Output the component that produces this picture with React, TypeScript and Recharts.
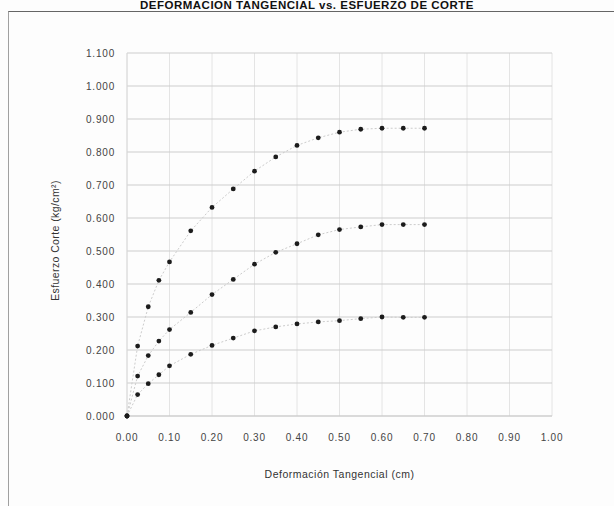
import { LineChart, Line, XAxis, YAxis, CartesianGrid, Label } from 'recharts';

// Deformación tangencial (cm)
const deformacion = [0, 0.025, 0.05, 0.075, 0.1, 0.15, 0.2, 0.25, 0.3, 0.35, 0.4, 0.45, 0.5, 0.55, 0.6, 0.65, 0.7];

// Esfuerzo de corte (kg/cm²) por ensayo
const esfuerzoAlto = [0, 0.212, 0.331, 0.411, 0.467, 0.561, 0.632, 0.688, 0.742, 0.785, 0.82, 0.843, 0.86, 0.869, 0.872, 0.872, 0.872];
const esfuerzoMedio = [0, 0.121, 0.183, 0.227, 0.262, 0.314, 0.368, 0.414, 0.46, 0.496, 0.522, 0.549, 0.565, 0.573, 0.58, 0.58, 0.58];
const esfuerzoBajo = [0, 0.065, 0.098, 0.125, 0.152, 0.187, 0.214, 0.236, 0.258, 0.27, 0.279, 0.285, 0.289, 0.295, 0.3, 0.299, 0.299];

const xTicks = [0, 0.1, 0.2, 0.3, 0.4, 0.5, 0.6, 0.7, 0.8, 0.9, 1.0];
const yTicks = [0, 0.1, 0.2, 0.3, 0.4, 0.5, 0.6, 0.7, 0.8, 0.9, 1.0, 1.1];

const FONT = '"Liberation Sans", Arial, sans-serif';

const rows = deformacion.map((x, i) => ({
  x,
  alto: esfuerzoAlto[i],
  medio: esfuerzoMedio[i],
  bajo: esfuerzoBajo[i],
}));

const tickStyle = { fontSize: 10, fill: '#444', fontFamily: FONT, letterSpacing: 0.8 };
const lineProps = {
  type: 'linear' as const,
  stroke: '#cccccc',
  strokeWidth: 1,
  strokeDasharray: '2 2',
  dot: { r: 2.4, fill: '#1c1c1c', stroke: 'none' },
  activeDot: false as const,
  isAnimationActive: false,
};

export default function App() {
  return (
    <div style={{ position: 'absolute', left: 0, top: 0, width: 614, height: 506, background: '#fdfdfd', overflow: 'hidden', fontFamily: FONT }}>
      <div
        style={{
          position: 'absolute',
          left: 0,
          top: 0,
          width: 614,
          textAlign: 'center',
          fontWeight: 700,
          fontSize: 11.5,
          lineHeight: '11px',
          color: '#111',
          whiteSpace: 'nowrap',
          letterSpacing: 0.5,
        }}
      >
        DEFORMACION TANGENCIAL vs. ESFUERZO DE CORTE
      </div>
      <div
        style={{
          position: 'absolute',
          left: 8,
          top: 11,
          width: 620,
          height: 520,
          borderLeft: '1px solid #a0a0a0',
          borderTop: '1.5px solid #666',
        }}
      />
      <div style={{ position: 'absolute', left: 0, top: 0 }}>
        <LineChart width={614} height={506} data={rows} margin={{ top: 53, right: 62, bottom: 50, left: 67 }}>
          <CartesianGrid stroke="#e4e4e4" horizontal={false} />
          <CartesianGrid stroke="#cdcdcd" vertical={false} />
          <XAxis
            dataKey="x"
            type="number"
            domain={[0, 1]}
            ticks={xTicks}
            tickFormatter={(v: number) => v.toFixed(2)}
            tick={tickStyle}
            tickLine={false}
            axisLine={{ stroke: '#cfcfcf' }}
            tickMargin={12}
            height={40}
            interval={0}
          >
            <Label
              value="Deformación Tangencial (cm)"
              position="insideBottom"
              offset={-22}
              style={{ fontSize: 10.5, fill: '#333', fontFamily: FONT, letterSpacing: 0.5 }}
            />
          </XAxis>
          <YAxis
            type="number"
            domain={[0, 1.1]}
            ticks={yTicks}
            tickFormatter={(v: number) => v.toFixed(3)}
            tick={tickStyle}
            tickLine={false}
            axisLine={{ stroke: '#dadada' }}
            tickMargin={6}
            width={60}
            interval={0}
          >
            <Label
              content={({ viewBox }: any) => {
                const cx = viewBox.x - 12;
                const cy = viewBox.y + viewBox.height / 2 + 6;
                return (
                  <text
                    x={cx}
                    y={cy}
                    transform={`rotate(-90, ${cx}, ${cy})`}
                    textAnchor="middle"
                    dominantBaseline="central"
                    fontSize={10.5}
                    fill="#333"
                    fontFamily={FONT}
                    letterSpacing={0.4}
                  >
                    Esfuerzo Corte (kg/cm²)
                  </text>
                );
              }}
            />
          </YAxis>
          <Line dataKey="alto" {...lineProps} />
          <Line dataKey="medio" {...lineProps} />
          <Line dataKey="bajo" {...lineProps} />
        </LineChart>
      </div>
    </div>
  );
}
